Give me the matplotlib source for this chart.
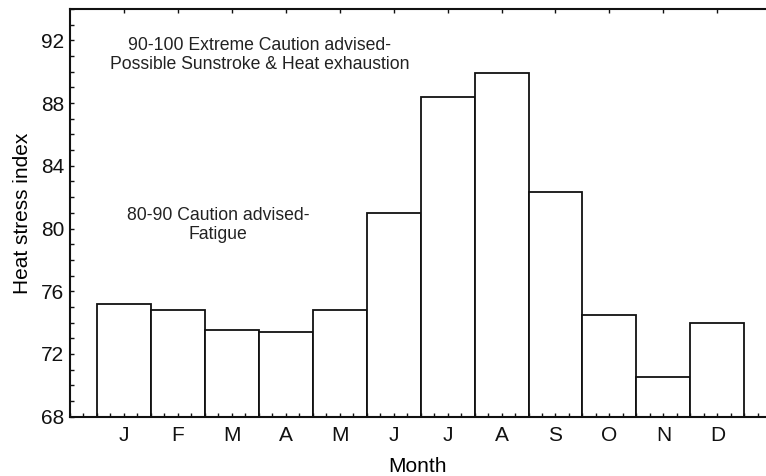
import numpy as np
import matplotlib
matplotlib.use('Agg')
import matplotlib.pyplot as plt
from matplotlib.ticker import MultipleLocator

months = ['J', 'F', 'M', 'A', 'M', 'J', 'J', 'A', 'S', 'O', 'N', 'D']
heat_index = [75.2, 74.8, 73.5, 73.4, 74.8, 81.0, 88.4, 89.9, 82.3, 74.5, 70.5, 74.0]

plt.rcParams['font.family'] = ['Liberation Sans', 'DejaVu Sans']


def main():
    fig = plt.figure(figsize=(7.66, 4.76), dpi=100)
    ax = fig.add_axes([69.7 / 766, 59.3 / 476, 696.3 / 766, 407.7 / 476])

    pos = np.arange(1, len(months) + 1)
    ax.bar(pos, np.array(heat_index) - 68, bottom=68, width=1.0,
           color='white', edgecolor='#111111', linewidth=1.3)

    ax.set_xlim(0, 12.9)
    ax.set_ylim(68, 94)

    ax.set_xticks(pos)
    ax.set_xticklabels(months)
    ax.xaxis.set_minor_locator(MultipleLocator(0.25))
    ax.yaxis.set_major_locator(MultipleLocator(4))
    ax.yaxis.set_minor_locator(MultipleLocator(1))

    ax.tick_params(axis='both', which='both', direction='in', length=3,
                   width=1.0, colors='#111111', labelsize=15)
    ax.tick_params(axis='x', which='major', top=True, pad=7)
    ax.tick_params(axis='x', which='minor', top=False)
    ax.tick_params(axis='y', which='major', pad=4)

    ax.spines['right'].set_visible(False)
    for s in ['left', 'top', 'bottom']:
        ax.spines[s].set_linewidth(1.5)
        ax.spines[s].set_color('#111111')

    ax.set_ylabel('Heat stress index', fontsize=15, labelpad=6)
    ax.set_xlabel('Month', fontsize=15, labelpad=8)

    ax.text(3.52, 91.05, '90-100 Extreme Caution advised-\nPossible Sunstroke & Heat exhaustion',
            ha='center', va='center', fontsize=12.7, color='#222222', linespacing=1.15)
    ax.text(2.75, 80.2, '80-90 Caution advised-\nFatigue',
            ha='center', va='center', fontsize=12.7, color='#222222', linespacing=1.15)

    plt.savefig('out.png', dpi=100)


if __name__ == '__main__':
    main()
